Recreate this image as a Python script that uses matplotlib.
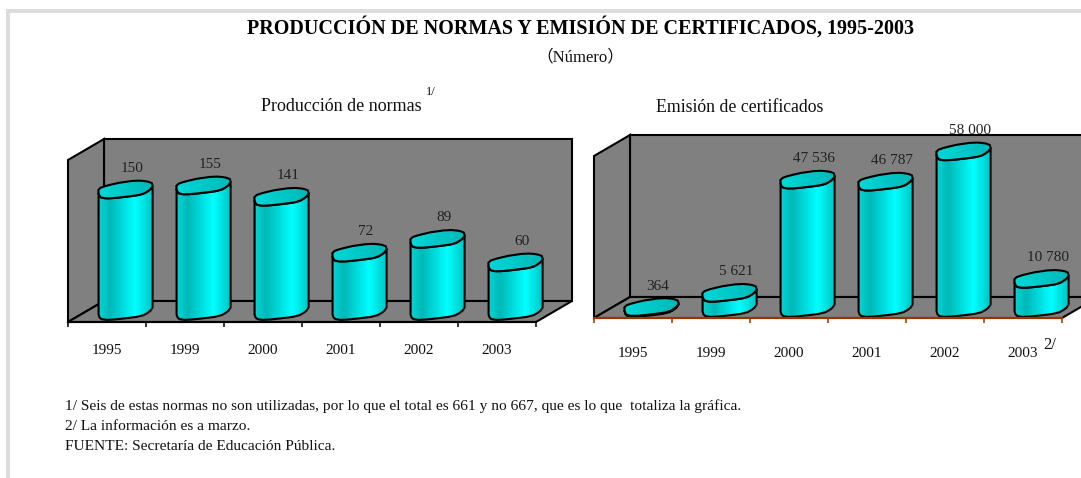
import numpy as np
import matplotlib
matplotlib.use('Agg')
import matplotlib.pyplot as plt
from matplotlib.colors import LinearSegmentedColormap
from matplotlib.patches import Polygon, Rectangle

plt.rcParams['font.family'] = ['Liberation Serif', 'Noto Sans CJK SC']

years_left = ['1995', '1999', '2000', '2001', '2002', '2003']
normas = [150, 155, 141, 72, 89, 60]
normas_labels = ['150', '155', '141', '72', '89', '60']

years_right = ['1995', '1999', '2000', '2001', '2002', '2003']
certificados = [364, 5621, 47536, 46787, 58000, 10780]
certificados_labels = ['364', '5 621', '47 536', '46 787', '58 000', '10 780']

W, H = 1081, 478
fig = plt.figure(figsize=(W / 100, H / 100), dpi=100, facecolor='white')

body_cmap = LinearSegmentedColormap.from_list(
    'body', [(0, '#00d4d4'), (0.2, '#00b8b8'), (0.68, '#00ffff'), (1, '#00c4c4')])
top_cmap = LinearSegmentedColormap.from_list('top', ['#00d8d8', '#00b8b8'])


def fx(px):
    return px / W


def fy(py):
    return 1 - py / H


def ellipse_points(cx, cy, t):
    # squarish tilted ellipse with a small wobble, like the original's rough outline
    c, s = np.cos(t), np.sin(t)
    ux = np.sign(c) * np.abs(c) ** 0.75
    uy = np.sign(s) * np.abs(s) ** 0.75
    r = 1 + 0.03 * np.sin(5 * t + 0.8)
    return cx + 27 * r * ux, cy + 3.5 * ux + 7.5 * r * uy


def draw_chart(left, bottom, values, labels, years, ymax, axis_color, base, tick_pad):
    cat_w = 78
    wall_h = 162
    depth_x = 36
    depth_y = 21
    ax = fig.add_axes([fx(left), fy(bottom), 6 * cat_w / W, wall_h / H])
    ax.set_xlim(0, 6)
    ax.set_ylim(0, ymax)
    ax.patch.set_visible(False)
    sx = 1 / cat_w
    sy = ymax / wall_h
    dx = depth_x * sx
    dy = depth_y * sy

    gray = '#808080'
    wall_kw = dict(facecolor=gray, edgecolor='black', linewidth=1.5, clip_on=False, zorder=1)
    ax.add_patch(Polygon([(dx, dy), (6 + dx, dy), (6 + dx, ymax + dy), (dx, ymax + dy)], **wall_kw))
    ax.add_patch(Polygon([(0, 0), (dx, dy), (dx, ymax + dy), (0, ymax)], **wall_kw))
    ax.add_patch(Polygon([(0, 0), (6, 0), (6 + dx, dy), (dx, dy)], **wall_kw))

    t_low = np.linspace(np.pi, 2 * np.pi, 11)
    t_all = np.linspace(0, 2 * np.pi, 22, endpoint=False)
    for i, (v, lab) in enumerate(zip(values, labels)):
        cx_px = (i + 0.5) * cat_w + depth_x / 2
        top_px = base + v / sy
        bx, by = ellipse_points(cx_px, base, t_low)
        tx, ty = ellipse_points(cx_px, top_px, t_low[::-1])
        xs = np.concatenate([bx, tx]) * sx
        ys = np.concatenate([by, ty]) * sy
        body = Polygon(np.column_stack([xs, ys]), facecolor='none', edgecolor='black',
                       linewidth=1.5, clip_on=False, zorder=4, joinstyle='round')
        ax.add_patch(body)
        im = ax.imshow(np.linspace(0, 1, 64)[None, :], cmap=body_cmap, aspect='auto',
                       extent=[xs.min(), xs.max(), ys.min(), ys.max()], zorder=3, origin='lower')
        im.set_clip_box(fig.bbox)
        im.set_clip_path(Polygon(np.column_stack([xs, ys]), transform=ax.transData))

        ex, ey = ellipse_points(cx_px, top_px, t_all)
        ex, ey = ex * sx, ey * sy
        cap = Polygon(np.column_stack([ex, ey]), facecolor='none', edgecolor='black',
                      linewidth=1.5, clip_on=False, zorder=6)
        ax.add_patch(cap)
        im2 = ax.imshow(np.linspace(0, 1, 64)[None, :], cmap=top_cmap, aspect='auto',
                        extent=[ex.min(), ex.max(), ey.min(), ey.max()], zorder=5, origin='lower')
        im2.set_clip_box(fig.bbox)
        im2.set_clip_path(Polygon(np.column_stack([ex, ey]), transform=ax.transData))

        ax.annotate(lab, xy=((cx_px + 7) * sx, (top_px - 4) * sy), xytext=(0, 25 * 0.72),
                    textcoords='offset points', ha='center', va='center', fontsize=11,
                    color='#222222', annotation_clip=False, zorder=8)

    ax.set_xlim(0, 6)
    ax.set_ylim(0, ymax)
    for s in ['top', 'left', 'right']:
        ax.spines[s].set_visible(False)
    ax.spines['bottom'].set_color(axis_color)
    ax.spines['bottom'].set_linewidth(1.5)
    ax.spines['bottom'].set_zorder(7)
    ax.set_yticks([])
    ax.set_xticks(range(7))
    ax.set_xticklabels([])
    ax.tick_params(axis='x', which='major', color=axis_color, length=3.6, width=1.1)
    ax.set_xticks(np.arange(6) + 0.5, minor=True)
    ax.set_xticklabels(years, minor=True, fontsize=11, color='#111111')
    ax.tick_params(axis='x', which='minor', length=0, pad=tick_pad)
    return ax


draw_chart(68, 322, normas, normas_labels, years_left, 200, 'black', 11, 15.5)
draw_chart(594, 318, certificados, certificados_labels, years_right, 60000, '#993300', 10, 21.2)

# page frame
fig.add_artist(Rectangle((fx(6), 0), 4 / W, fy(9), transform=fig.transFigure, facecolor='#dcdcdc', edgecolor='none'))
fig.add_artist(Rectangle((fx(6), fy(13)), 1 - fx(6), 4 / H, transform=fig.transFigure, facecolor='#dcdcdc', edgecolor='none'))

fig.text(fx(581), fy(27.5), 'PRODUCCIÓN DE NORMAS Y EMISIÓN DE CERTIFICADOS, 1995-2003',
         ha='center', va='center', fontsize=14.5, fontweight='bold', color='black')
fig.text(fx(580), fy(57), '（Número）', ha='center', va='center', fontsize=12, color='#111111')
fig.text(fx(341), fy(106.5), 'Producción de normas', ha='center', va='center', fontsize=13, color='#111111')
fig.text(fx(431), fy(92), '1/', ha='center', va='center', fontsize=9, color='#111111')
fig.text(fx(740), fy(108), 'Emisión de certificados', ha='center', va='center', fontsize=12.8, color='#111111')
fig.text(fx(1050), fy(345), '2/', ha='center', va='center', fontsize=12, color='#111111')

fig.text(fx(65), fy(406.5), '1/ Seis de estas normas no son utilizadas, por lo que el total es 661 y no 667, que es lo que  totaliza la gráfica.',
         ha='left', va='center', fontsize=11.08, color='#111111')
fig.text(fx(65), fy(426), '2/ La información es a marzo.', ha='left', va='center', fontsize=11.08, color='#111111')
fig.text(fx(65), fy(446.5), 'FUENTE: Secretaría de Educación Pública.', ha='left', va='center', fontsize=11.08, color='#111111')

fig.savefig('out.png', dpi=100, facecolor='white')
